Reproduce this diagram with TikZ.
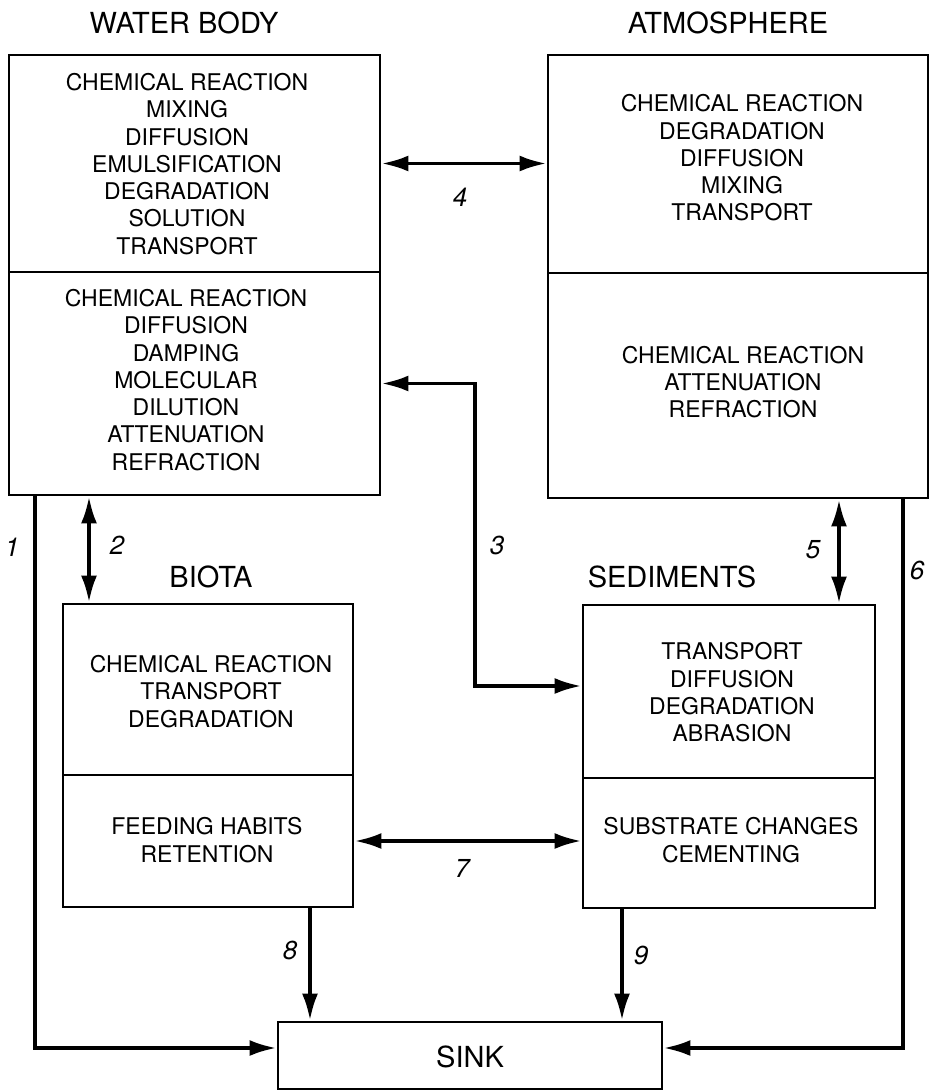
\documentclass[tikz,border=0pt]{standalone}
\usepackage{fontspec}
\setmainfont{TeX Gyre Heros}
\usetikzlibrary{arrows.meta}
\begin{document}
\begin{tikzpicture}[x=1pt,y=-1pt,
  box/.style={draw, line width=2.9pt, inner sep=0pt},
  txt/.style={align=center, inner sep=0pt, font=\fontsize{23}{27.3}\selectfont},
  ttl/.style={font=\fontsize{29}{32}\selectfont, inner sep=0pt},
  lab/.style={font=\fontsize{26}{30}\selectfont\itshape, inner sep=0pt},
  conn/.style={line width=3.7pt},
  tip/.style={-{Latex[length=27pt,width=16pt]}},
  dtip/.style={{Latex[length=27pt,width=16pt]}-{Latex[length=27pt,width=16pt]}}]
\fill[white] (0,0) rectangle (932,1092);
\useasboundingbox (0,0) rectangle (932,1092);
% titles
\node[ttl] (twb) at (184,23) {WATER BODY};
\node[ttl] (tat) at (728,23) {ATMOSPHERE};
\node[ttl] (tbi) at (211,577) {BIOTA};
\node[ttl] (tse) at (672,577) {SEDIMENTS};
% boxes
\node[box, minimum width=371pt, minimum height=217pt] (wb1) at (194.5,163.5) {};
\node[box, minimum width=371pt, minimum height=223pt] (wb2) at (194.5,383.5) {};
\node[box, minimum width=380pt, minimum height=218pt] (at1) at (738,164) {};
\node[box, minimum width=380pt, minimum height=225pt] (at2) at (738,385.5) {};
\node[box, minimum width=290pt, minimum height=171pt] (bi1) at (208,689.5) {};
\node[box, minimum width=290pt, minimum height=132pt] (bi2) at (208,841) {};
\node[box, minimum width=292pt, minimum height=173pt] (se1) at (729,691.5) {};
\node[box, minimum width=292pt, minimum height=130pt] (se2) at (729,843) {};
\node[box, minimum width=384pt, minimum height=67pt] (sink) at (470,1055.5) {};
% box texts
\node[txt] (xwb1) at (187,164)
  {CHEMICAL REACTION\\MIXING\\DIFFUSION\\EMULSIFICATION\\DEGRADATION\\SOLUTION\\TRANSPORT};
\node[txt] (xwb2) at (186,380)
  {CHEMICAL REACTION\\DIFFUSION\\DAMPING\\MOLECULAR\\DILUTION\\ATTENUATION\\REFRACTION};
\node[txt] (xat1) at (742,158)
  {CHEMICAL REACTION\\DEGRADATION\\DIFFUSION\\MIXING\\TRANSPORT};
\node[txt] (xat2) at (743,382)
  {CHEMICAL REACTION\\ATTENUATION\\REFRACTION};
\node[txt] (xbi1) at (211,691.5)
  {CHEMICAL REACTION\\TRANSPORT\\DEGRADATION};
\node[txt] (xbi2) at (207,840)
  {FEEDING HABITS\\RETENTION};
\node[txt] (xse1) at (732,692.5)
  {TRANSPORT\\DIFFUSION\\DEGRADATION\\ABRASION};
\node[txt] (xse2) at (731,840)
  {SUBSTRATE CHANGES\\CEMENTING};
\node[ttl] (xsink) at (470,1057) {SINK};
% helper coordinates
\coordinate (k1) at (35,1048);
\coordinate (k2) at (89,550);
\coordinate (k3) at (475,686);
\coordinate (k5) at (839,550);
\coordinate (k6) at (903,1048);
\coordinate (k8) at (310,960);
\coordinate (k9) at (622,960);
% connectors
\draw[conn,dtip] (wb1.east) -- (wb1.east -| at1.west);
\draw[conn,dtip] (wb2.east) -| (k3) -- (k3 -| se1.west);
\draw[conn,dtip] (wb2.south -| k2) -- (bi1.north -| k2);
\draw[conn,dtip] (at2.south -| k5) -- (se1.north -| k5);
\draw[conn,dtip] (bi2.east) -- (bi2.east -| se2.west);
\draw[conn,tip] (wb2.south -| k1) -- (k1) -- (k1 -| sink.west);
\draw[conn,tip] (at2.south -| k6) -- (k6) -- (k6 -| sink.east);
\draw[conn,tip] (bi2.south -| k8) -- (sink.north -| k8);
\draw[conn,tip] (se2.south -| k9) -- (sink.north -| k9);
% labels
\node[lab] (l1) at (12,547) {1};
\node[lab] (l2) at (117,545) {2};
\node[lab] (l3) at (497,545) {3};
\node[lab] (l4) at (460,197) {4};
\node[lab] (l5) at (813,550) {5};
\node[lab] (l6) at (917,570) {6};
\node[lab] (l7) at (462,868) {7};
\node[lab] (l8) at (290,950) {8};
\node[lab] (l9) at (641,955) {9};
\end{tikzpicture}
\end{document}
